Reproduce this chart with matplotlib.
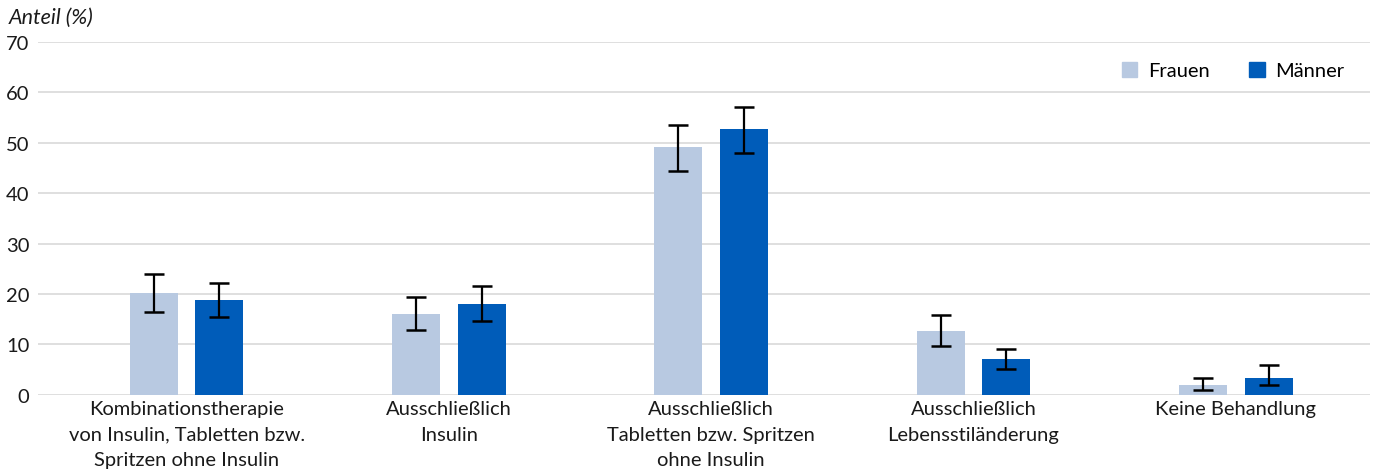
import matplotlib.pyplot as plt
import numpy as np
from matplotlib.patches import Patch

plt.rcParams['font.family'] = ['Lato', 'DejaVu Sans']

categories = ['Kombinationstherapie\nvon Insulin, Tabletten bzw.\nSpritzen ohne Insulin',
              'Ausschließlich\nInsulin',
              'Ausschließlich\nTabletten bzw. Spritzen\nohne Insulin',
              'Ausschließlich\nLebensstiländerung',
              'Keine Behandlung']

frauen = [20.2, 16.1, 49.2, 12.7, 2.0]
frauen_lo = [16.5, 12.9, 44.4, 9.7, 1.0]
frauen_hi = [24.0, 19.4, 53.6, 15.9, 3.4]

maenner = [18.8, 18.1, 52.8, 7.1, 3.4]
maenner_lo = [15.5, 14.7, 48.0, 5.2, 2.0]
maenner_hi = [22.2, 21.6, 57.1, 9.1, 6.0]

c_frauen = '#b8c9e1'
c_maenner = '#005cb9'
fs = 14.5

fig = plt.figure(figsize=(13.75, 4.77), dpi=100)
ax = fig.add_axes([0.0276, 0.17, 0.9684, 0.74])

x = np.arange(len(categories))
w = 0.183
off = 0.125

f = np.array(frauen)
m = np.array(maenner)
ferr = [f - np.array(frauen_lo), np.array(frauen_hi) - f]
merr = [m - np.array(maenner_lo), np.array(maenner_hi) - m]

ax.bar(x - off, f, w, color=c_frauen, zorder=2)
ax.bar(x + off, m, w, color=c_maenner, zorder=2)
ax.errorbar(x - off, f, yerr=ferr, fmt='none', ecolor='black',
            elinewidth=1.6, capsize=7, capthick=1.8, zorder=3)
ax.errorbar(x + off, m, yerr=merr, fmt='none', ecolor='black',
            elinewidth=1.6, capsize=7, capthick=1.8, zorder=3)

ax.set_xlim(-0.567, 4.51)
ax.set_ylim(0, 70)
ax.set_yticks(range(0, 71, 10))
ax.yaxis.grid(True, color='#d9d9d9', linewidth=1.2, zorder=0)
ax.set_axisbelow(True)
for s in ax.spines.values():
    s.set_visible(False)
ax.tick_params(axis='y', length=0, pad=6, labelsize=fs, colors='#1a1a1a')
ax.tick_params(axis='x', length=0, pad=4, labelsize=fs, colors='#1a1a1a')
ax.set_xticks(x)
ax.set_xticklabels(categories, linespacing=1.6)

fig.text(0.006, 0.962, 'Anteil (%)', fontsize=fs + 1, style='italic',
         color='#1a1a1a', ha='left', va='center')

handles = [Patch(color=c_frauen, label='Frauen'), Patch(color=c_maenner, label='Männer')]
ax.legend(handles=handles, loc='upper right', bbox_to_anchor=(0.995, 0.995), ncol=2,
          frameon=False, fontsize=fs, handlelength=0.75, handleheight=0.75,
          columnspacing=1.95, handletextpad=0.55)

fig.savefig('out.png', dpi=100)
